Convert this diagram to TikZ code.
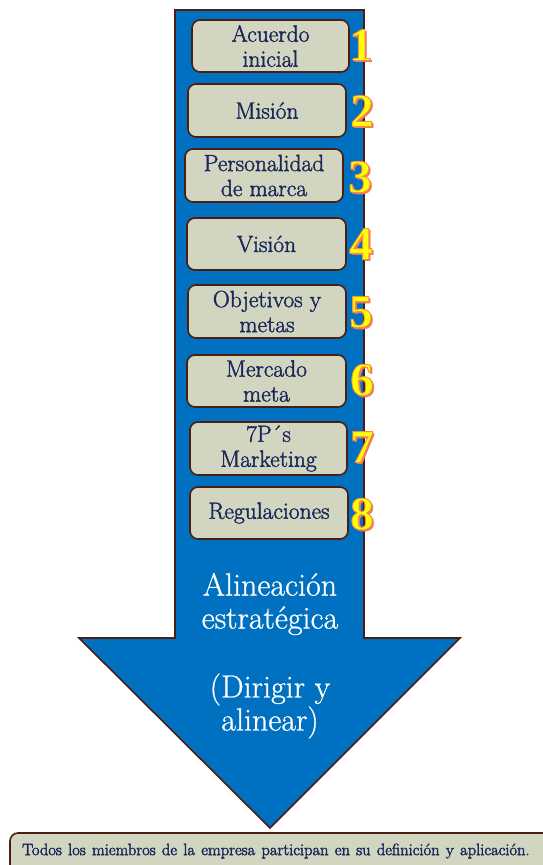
\documentclass[tikz,border=0pt]{standalone}
\usepackage{fontspec}
\newfontfamily\numfont{Liberation Serif}
\definecolor{arrowblue}{HTML}{0070C0}
\definecolor{brownline}{HTML}{4A1E12}
\definecolor{boxfill}{HTML}{D2D5C0}
\definecolor{navytext}{HTML}{1A2858}
\definecolor{numshadow}{HTML}{F07868}
\definecolor{numyellow}{HTML}{FFFF00}
\newcommand{\thk}[1]{\special{pdf:literal direct 2 Tr 0.4 w}#1\special{pdf:literal direct 0 Tr}}
\newcommand{\thkw}[1]{\special{pdf:literal direct 2 Tr 0.25 w}#1\special{pdf:literal direct 0 Tr}}
\newcommand{\numout}[1]{\special{pdf:literal direct 2 Tr 0.9 w 0.96 0.55 0.25 RG}#1\special{pdf:literal direct 0 Tr}}
\begin{document}
\begin{tikzpicture}[x=1pt,y=-1pt,
  bigarrow/.style={draw=brownline, line width=1.6pt, fill=arrowblue, line join=miter},
  stepbox/.style={draw=brownline, line width=1.6pt, fill=boxfill, rounded corners=8pt,
    text=navytext, align=center, font=\fontsize{23.5}{25}\selectfont, inner sep=0pt},
  numtxt/.style={font=\numfont\bfseries\fontsize{47}{47}\selectfont, inner sep=0pt},
  bigtxt/.style={text=white, align=center, font=\fontsize{32}{33}\selectfont},
  notebox/.style={draw=brownline, line width=1.6pt, fill=boxfill, rounded corners=8pt},
]
\useasboundingbox (0,0) rectangle (543,865);
\clip (0,0) rectangle (543,865);

% main arrow
\draw[bigarrow] (175,10) -- (364,10) -- (364,638) -- (460,638) -- (270,828) -- (79,638) -- (175,638) -- cycle;

% step boxes
\node[stepbox, minimum width=157, minimum height=52] (b1) at (270.5,46) {\thk{Acuerdo\\inicial}};
\node[stepbox, minimum width=158, minimum height=53] (b2) at (267,110.5) {\thk{Misión}};
\node[stepbox, minimum width=158, minimum height=53] (b3) at (264,175.5) {\thk{Personalidad\\de marca}};
\node[stepbox, minimum width=159, minimum height=52] (b4) at (266.5,244) {\thk{Visión}};
\node[stepbox, minimum width=158, minimum height=53] (b5) at (267,311.5) {\thk{Objetivos y\\metas}};
\node[stepbox, minimum width=159, minimum height=52] (b6) at (266.5,381) {\thk{Mercado\\meta}};
\node[stepbox, minimum width=157, minimum height=53] (b7) at (268.5,448.5) {\thk{7P´s\\Marketing}};
\node[stepbox, minimum width=158, minimum height=52] (b8) at (269,513) {\thk{Regulaciones}};

% numbers
\foreach \n/\x/\y in {1/361/45, 2/362/111, 3/360/177, 4/361/244, 5/361/312, 6/362/380, 7/362/447, 8/362/514}{
  \node[numtxt, text=numshadow] at (\x+2.2,\y+2.2) {\n};
  \node[numtxt, text=numyellow] (n\n) at (\x,\y) {\numout{\n}};
}

% arrow text
\node[bigtxt] (t1) at (270,604) {\thkw{Alineación\\estratégica}};
\node[bigtxt] (t2) at (270,706) {\thkw{(Dirigir y\\alinear)}};

% bottom note
\draw[notebox] (10,833) rectangle (580,900);
\node[text=navytext, font=\fontsize{16.5}{17}\selectfont, anchor=west, inner sep=0pt] (note) at (22,851) {\spaceskip=0.38em\thk{Todos los miembros de la empresa participan en su definición y aplicación.}};
\end{tikzpicture}
\end{document}
